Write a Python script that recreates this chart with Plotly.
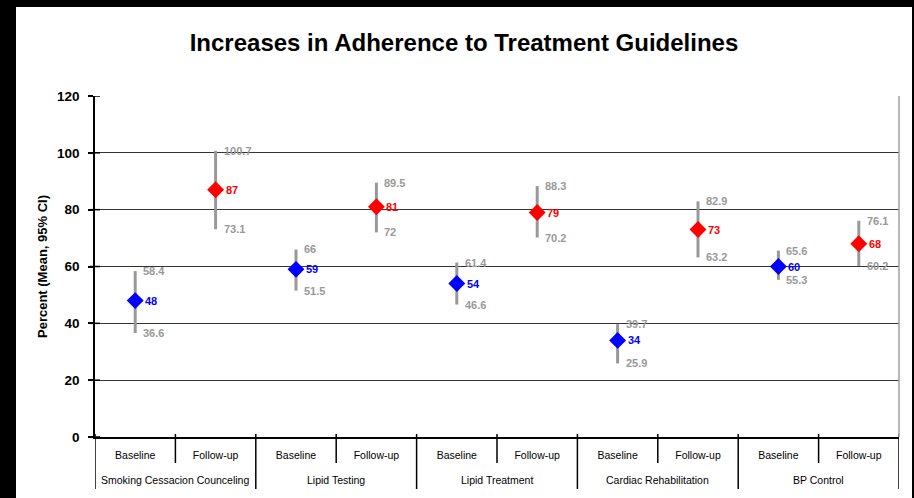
import plotly.graph_objects as go

# Measures and phases
measures = ["Smoking Cessacion Counceling", "Lipid Testing", "Lipid Treatment",
            "Cardiac Rehabilitation", "BP Control"]
phases = ["Baseline", "Follow-up"]

# Mean percent and 95% CI bounds per measure
baseline_mean = [48, 59, 54, 34, 60]
baseline_low = [36.6, 51.5, 46.6, 25.9, 55.3]
baseline_high = [58.4, 66, 61.4, 39.7, 65.6]

followup_mean = [87, 81, 79, 73, 68]
followup_low = [73.1, 72, 70.2, 63.2, 60.2]
followup_high = [100.7, 89.5, 88.3, 82.9, 76.1]

y_ticks = [0, 20, 40, 60, 80, 100, 120]

W, H = 914, 498
L, R, T, B = 95, 15, 96, 61
PW, PH = W - L - R, H - T - B

FONT = "Liberation Sans, Arial, sans-serif"
GRAY = "#999999"


def px_x(p):
    return (p - L) / PW


def px_y(p):
    return (H - B - p) / PH


n = len(measures)
xb = [2 * i for i in range(n)]
xf = [2 * i + 1 for i in range(n)]

fig = go.Figure()


def add_series(xs, mean, low, high, color):
    fig.add_trace(go.Scatter(
        x=xs, y=mean, mode="markers",
        marker=dict(symbol="diamond", size=13, color=color, line=dict(width=0)),
        error_y=dict(type="data", symmetric=False,
                     array=[h - m for h, m in zip(high, mean)],
                     arrayminus=[m - l for m, l in zip(mean, low)],
                     color=GRAY, thickness=3, width=0),
        hoverinfo="skip", showlegend=False,
    ))
    for x, m, lo, hi in zip(xs, mean, low, high):
        fig.add_annotation(x=x, y=m, text=f"<b>{m:g}</b>", showarrow=False,
                           xanchor="left", yanchor="middle", xshift=8,
                           font=dict(family=FONT, size=11, color=color))
        for v in (lo, hi):
            fig.add_annotation(x=x, y=v, text=f"<b>{v:g}</b>", showarrow=False,
                               xanchor="left", yanchor="middle", xshift=6,
                               font=dict(family=FONT, size=11, color=GRAY))


add_series(xb, baseline_mean, baseline_low, baseline_high, "#0000FF")
add_series(xf, followup_mean, followup_low, followup_high, "#FF0000")

# Measure group labels beneath the phase labels
for i, name in enumerate(measures):
    fig.add_annotation(x=2 * i + 0.5, y=px_y(480), yref="paper", text=name,
                       showarrow=False, xanchor="center", yanchor="middle",
                       font=dict(family=FONT, size=10.5, color="black"))

shapes = []
# Group dividers
for i in range(n + 1):
    xv = 2 * i - 0.5
    shapes.append(dict(type="line", xref="x", yref="paper", x0=xv, x1=xv,
                       y0=px_y(489), y1=px_y(434), line=dict(color="black", width=1.5)))
# Dividers between phases inside a group
for i in range(n):
    xv = 2 * i + 0.5
    shapes.append(dict(type="line", xref="x", yref="paper", x0=xv, x1=xv,
                       y0=px_y(463), y1=px_y(434), line=dict(color="black", width=1.5)))
# Y tick marks crossing the axis
for v in y_ticks:
    shapes.append(dict(type="line", xref="paper", yref="y", x0=px_x(90), x1=px_x(100),
                       y0=v, y1=v, line=dict(color="black", width=1.5)))
# Right plot border
shapes.append(dict(type="line", xref="paper", yref="paper", x0=1, x1=1, y0=0, y1=1,
                   line=dict(color="#a0a0a0", width=1.5)))
# Black frame strips
shapes.append(dict(type="rect", xref="paper", yref="paper", x0=px_x(0), x1=px_x(16),
                   y0=px_y(H), y1=px_y(0), fillcolor="black", line=dict(width=0), layer="above"))
shapes.append(dict(type="rect", xref="paper", yref="paper", x0=px_x(0), x1=px_x(W),
                   y0=px_y(7), y1=px_y(0), fillcolor="black", line=dict(width=0), layer="above"))
shapes.append(dict(type="rect", xref="paper", yref="paper", x0=px_x(912), x1=px_x(W),
                   y0=px_y(H), y1=px_y(0), fillcolor="black", line=dict(width=0), layer="above"))

fig.update_layout(
    width=W, height=H, autosize=False,
    margin=dict(l=L, r=R, t=T, b=B, autoexpand=False),
    paper_bgcolor="white", plot_bgcolor="white",
    showlegend=False,
    title=dict(text="<b>Increases in Adherence to Treatment Guidelines</b>",
               x=464 / W, xref="container", xanchor="center",
               y=1 - 43 / H, yref="container", yanchor="middle",
               font=dict(family=FONT, size=24, color="black")),
    shapes=shapes,
    xaxis=dict(range=[-0.5, 2 * n - 0.5], showgrid=False, zeroline=False,
               tickmode="array", tickvals=list(range(2 * n)),
               ticktext=phases * n, ticks="outside", ticklen=8,
               tickcolor="rgba(0,0,0,0)",
               tickfont=dict(family=FONT, size=10.5, color="black"),
               showline=True, linecolor="black", linewidth=1.5, fixedrange=True),
    yaxis=dict(range=[0, 120], tickmode="array", tickvals=y_ticks,
               showgrid=True, gridcolor="#333333", gridwidth=1, zeroline=False,
               ticks="outside", ticklen=5, tickcolor="black", tickwidth=1.5,
               ticklabelstandoff=6,
               tickfont=dict(family=FONT, size=13.5, color="black", weight="bold"),
               showline=True, linecolor="black", linewidth=1.5,
               title=dict(text="<b>Percent (Mean, 95% CI)</b>", standoff=6,
                          font=dict(family=FONT, size=13, color="black")),
               fixedrange=True),
)

fig.write_html("out.html")
